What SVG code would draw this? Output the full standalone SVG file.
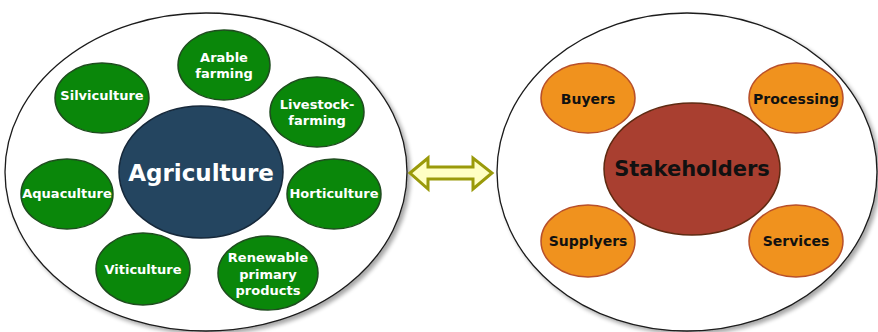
<svg xmlns="http://www.w3.org/2000/svg" width="878" height="332" viewBox="0 0 878 332">
<style>
text{font-family:"DejaVu Sans","Verdana","Liberation Sans",sans-serif;font-weight:bold;text-anchor:middle;dominant-baseline:central}
.outer{fill:#ffffff;stroke:#1a1a1a;stroke-width:1.3;filter:url(#sh)}
.green{fill:#0a870a;stroke:#1f4d1f;stroke-width:1.5}
.green-t{fill:#ffffff;font-size:13px}
.orange{fill:#f0921e;stroke:#b8502a;stroke-width:1.5}
.orange-t{fill:#111111;font-size:14px}
</style>
<defs>
<filter id="sh" x="-10%" y="-10%" width="125%" height="125%">
<feGaussianBlur in="SourceAlpha" stdDeviation="2"/>
<feOffset dx="3" dy="3"/>
<feComponentTransfer><feFuncA type="linear" slope="0.35"/></feComponentTransfer>
<feMerge><feMergeNode/><feMergeNode in="SourceGraphic"/></feMerge>
</filter>
</defs>
<rect width="878" height="332" fill="#ffffff"/>
<g id="agriculture-group">
<ellipse class="outer" cx="206" cy="172" rx="201" ry="159"/>
</g>
<g id="stakeholders-group">
<ellipse class="outer" cx="687" cy="172" rx="190" ry="159"/>
</g>
<g id="connectors">
<path d="M410,173 L428,158 L428,167 L473,167 L473,158 L492,173 L473,189 L473,179 L428,179 L428,189 Z" fill="#ffffc4" stroke="#9a9a0a" stroke-width="3" stroke-linejoin="miter"/>
</g>
<g id="agriculture">
<ellipse cx="201" cy="172" rx="82" ry="66" fill="#244560" stroke="#16283a" stroke-width="1.5"/>
<text x="201" y="173" fill="#ffffff" font-size="23">Agriculture</text>
</g>
<g id="arable-farming">
<ellipse class="green" cx="224" cy="65" rx="46" ry="35"/>
<text class="green-t" x="224" y="57">Arable</text>
<text class="green-t" x="224" y="73">farming</text>
</g>
<g id="silviculture">
<ellipse class="green" cx="102" cy="98" rx="47" ry="35"/>
<text class="green-t" x="102" y="95">Silviculture</text>
</g>
<g id="livestock-farming">
<ellipse class="green" cx="317" cy="112" rx="47" ry="35"/>
<text class="green-t" x="317" y="104">Livestock-</text>
<text class="green-t" x="317" y="120">farming</text>
</g>
<g id="aquaculture">
<ellipse class="green" cx="67" cy="194" rx="46" ry="35"/>
<text class="green-t" x="67" y="193">Aquaculture</text>
</g>
<g id="horticulture">
<ellipse class="green" cx="334" cy="194" rx="47" ry="35"/>
<text class="green-t" x="334" y="193">Horticulture</text>
</g>
<g id="viticulture">
<ellipse class="green" cx="143" cy="269" rx="47" ry="36"/>
<text class="green-t" x="143" y="269">Viticulture</text>
</g>
<g id="renewable-primary-products">
<ellipse class="green" cx="268" cy="273" rx="50" ry="37"/>
<text class="green-t" x="268" y="257">Renewable</text>
<text class="green-t" x="268" y="274">primary</text>
<text class="green-t" x="268" y="290">products</text>
</g>
<g id="stakeholders">
<ellipse cx="692" cy="169" rx="88" ry="66" fill="#a93f30" stroke="#5e2a12" stroke-width="1.5"/>
<text x="692" y="169" fill="#111111" font-size="21">Stakeholders</text>
</g>
<g id="buyers">
<ellipse class="orange" cx="588" cy="98" rx="47" ry="35"/>
<text class="orange-t" x="588" y="99">Buyers</text>
</g>
<g id="processing">
<ellipse class="orange" cx="796" cy="98" rx="47" ry="35"/>
<text class="orange-t" x="796" y="99">Processing</text>
</g>
<g id="supplyers">
<ellipse class="orange" cx="588" cy="241" rx="47" ry="36"/>
<text class="orange-t" x="588" y="241">Supplyers</text>
</g>
<g id="services">
<ellipse class="orange" cx="796" cy="241" rx="47" ry="36"/>
<text class="orange-t" x="796" y="241">Services</text>
</g>
</svg>
